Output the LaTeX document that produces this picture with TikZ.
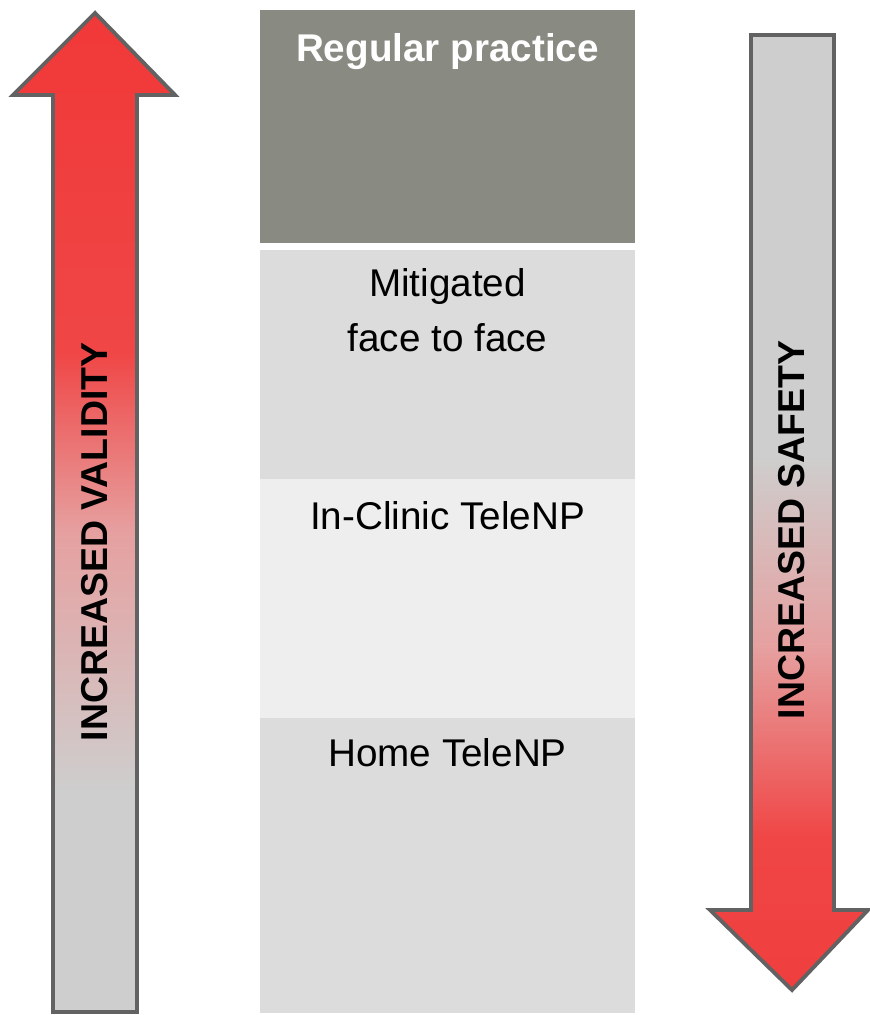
\documentclass[tikz,border=0pt]{standalone}
\usepackage{fontspec}
\setmainfont{Liberation Sans}
\usepackage{tikz}
\definecolor{arrowred}{RGB}{242,36,36}
\definecolor{arrowdeep}{RGB}{240,70,70}
\definecolor{arrowpink}{RGB}{230,160,160}
\definecolor{arrowgray}{RGB}{206,206,206}
\pgfdeclareverticalshading{validityfill}{100bp}{color(0bp)=(arrowgray); color(36bp)=(arrowgray); color(49bp)=(arrowpink); color(58bp)=(arrowdeep); color(100bp)=(arrowred)}
\pgfdeclareverticalshading{safetyfill}{100bp}{color(0bp)=(arrowred); color(33bp)=(arrowdeep); color(43bp)=(arrowpink); color(53bp)=(arrowgray); color(100bp)=(arrowgray)}

\begin{document}
\begin{tikzpicture}
\definecolor{outlinecolor}{RGB}{98,98,98}
\definecolor{regularcolor}{RGB}{137,138,130}
\definecolor{mitigatedcolor}{RGB}{220,220,220}
\definecolor{cliniccolor}{RGB}{238,238,238}
\definecolor{homecolor}{RGB}{220,220,220}
\tikzset{boxtext/.style={anchor=base,inner sep=0pt,font=\fontsize{22}{26}\selectfont},
  arrowtext/.style={rotate=90,inner sep=0pt,font=\fontsize{21.3}{26}\selectfont\bfseries},
  arrowline/.style={line width=2.2pt,draw=outlinecolor,line join=miter}}
\useasboundingbox (0,0) rectangle (17.38,20.30);
\fill [regularcolor] (5.20,15.44) rectangle (12.70,20.10);
\fill [mitigatedcolor] (5.20,10.72) rectangle (12.70,15.30);
\fill [cliniccolor] (5.20,5.94) rectangle (12.70,10.72);
\fill [homecolor] (5.20,0.04) rectangle (12.70,5.94);
\node (regular) [boxtext,text=white,font=\fontsize{22}{26}\selectfont\bfseries] at (8.95,19.06) {Regular practice};
\node (mitigated) [boxtext] at (8.95,14.36) {Mitigated};
\node (facetoface) [boxtext] at (8.95,13.26) {face to face};
\node (clinic) [boxtext] at (8.95,9.70) {In-Clinic TeleNP};
\node (home) [boxtext] at (8.95,4.96) {Home TeleNP};
\draw [arrowline,shading=validityfill] (1.90,20.04) -- (3.50,18.40) -- (2.74,18.40) -- (2.74,0.06) -- (1.06,0.06) -- (1.06,18.40) -- (0.26,18.40) -- cycle;
\draw [arrowline,shading=safetyfill] (15.02,19.60) -- (16.68,19.60) -- (16.68,2.10) -- (17.36,2.10) -- (15.84,0.50) -- (14.20,2.10) -- (15.02,2.10) -- cycle;
\node (validity) [arrowtext] at (1.90,9.46) {INCREASED VALIDITY};
\node (safety) [arrowtext] at (15.84,9.70) {INCREASED SAFETY};
\end{tikzpicture}
\end{document}
